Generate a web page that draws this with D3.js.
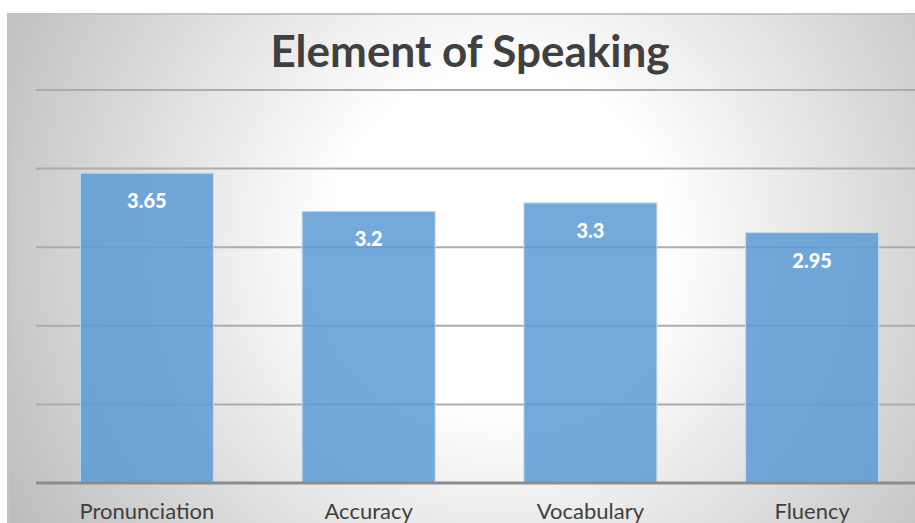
<!DOCTYPE html>
<html>
<head>
<meta charset="utf-8">
<script src="https://cdn.jsdelivr.net/npm/d3@7"></script>
<style>
  body { margin: 0; background: #fff; }
  svg { display: block; }
</style>
</head>
<body>
<div id="chart"></div>
<script>
var categories = ['Pronunciation', 'Accuracy', 'Vocabulary', 'Fluency'];
var values     = [3.65, 3.2, 3.3, 2.95];
var gridValues = [0, 0.926, 1.852, 2.778, 3.704, 4.63];
var title      = 'Element of Speaking';

var width = 915, height = 523;
var margin = {top: 90, left: 36, bottom: 40};

var svg = d3.select('#chart').append('svg')
	.attr('width', width)
	.attr('height', height);

// radial background like the office chart area
var defs = svg.append('defs');
var grad = defs.append('radialGradient')
	.attr('id', 'bg')
	.attr('gradientUnits', 'userSpaceOnUse')
	.attr('cx', 500).attr('cy', 240).attr('r', 560);
grad.append('stop').attr('offset', '0%').attr('stop-color', '#ffffff');
grad.append('stop').attr('offset', '30%').attr('stop-color', '#ffffff');
grad.append('stop').attr('offset', '100%').attr('stop-color', '#bdbdbd');

svg.append('rect')
	.attr('x', 8).attr('y', 14)
	.attr('width', width).attr('height', height)
	.attr('fill', 'url(#bg)')
	.attr('stroke', '#c4c4c4')
	.attr('stroke-width', 2);

var x = d3.scaleBand()
	.domain(categories)
	.range([margin.left, 923])
	.paddingInner(0.4)
	.paddingOuter(0.2);

var y = d3.scaleLinear()
	.domain([0, 4.63])
	.range([483, margin.top]);

// gridlines
svg.append('g').selectAll('line')
	.data(gridValues.slice(1))
	.enter().append('line')
	.attr('x1', margin.left).attr('x2', width)
	.attr('y1', function(d) { return y(d); })
	.attr('y2', function(d) { return y(d); })
	.attr('stroke', '#acacac')
	.attr('stroke-width', 2);

// bars
var bar = svg.append('g').selectAll('g')
	.data(values)
	.enter().append('g');

bar.append('rect')
	.attr('x', function(d, i) { return x(categories[i]); })
	.attr('y', function(d) { return y(d); })
	.attr('width', x.bandwidth())
	.attr('height', function(d) { return y(0) - y(d); })
	.attr('fill', '#5b9bd5')
	.attr('fill-opacity', 0.85)
	.attr('stroke', '#c5dcf0')
	.attr('stroke-width', 1);

bar.append('text')
	.attr('x', function(d, i) { return x(categories[i]) + x.bandwidth() / 2; })
	.attr('y', function(d) { return y(d) + 35; })
	.attr('text-anchor', 'middle')
	.attr('font-family', 'Lato, "Open Sans", sans-serif')
	.attr('font-weight', 900)
	.attr('font-size', 20)
	.attr('fill', '#ffffff')
	.text(function(d) { return d; });

// x axis line
svg.append('line')
	.attr('x1', margin.left).attr('x2', width)
	.attr('y1', y(0)).attr('y2', y(0))
	.attr('stroke', '#8c8c8c')
	.attr('stroke-width', 3);

var xAxis = d3.axisBottom(x).tickSize(0).tickPadding(0);
var gx = svg.append('g')
	.attr('transform', 'translate(0,' + y(0) + ')')
	.call(xAxis);
gx.select('.domain').remove();
gx.selectAll('text')
	.attr('dy', 0)
	.attr('y', 36)
	.attr('font-family', 'Lato, "Open Sans", sans-serif')
	.attr('font-size', 22)
	.attr('fill', '#404040');

svg.append('text')
	.attr('x', 470)
	.attr('y', 67)
	.attr('text-anchor', 'middle')
	.attr('font-family', 'Lato, "Open Sans", sans-serif')
	.attr('font-weight', 'bold')
	.attr('font-size', 44)
	.attr('fill', '#404040')
	.text(title);
</script>
</body>
</html>
